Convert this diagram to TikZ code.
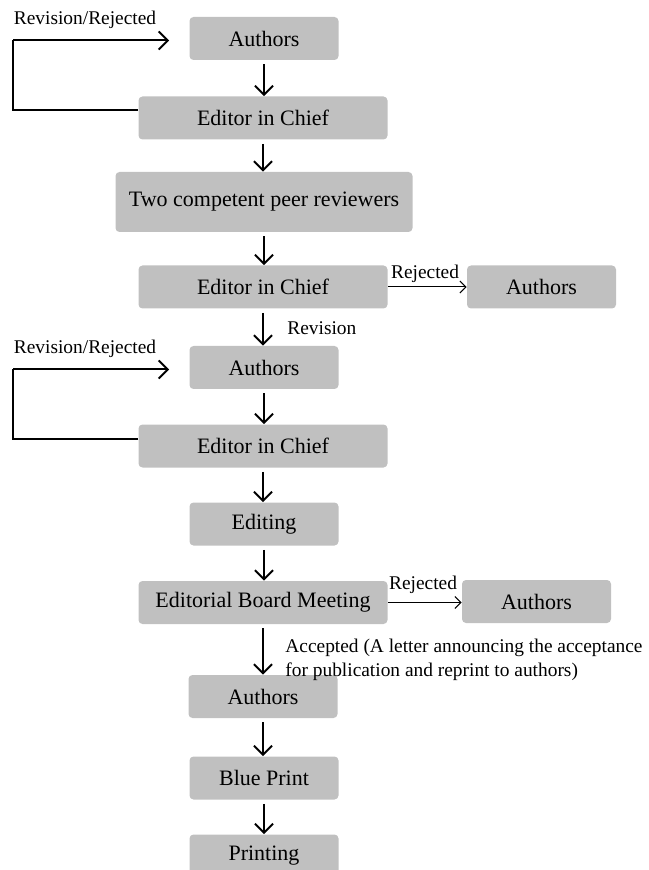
\documentclass[tikz,border=0pt]{standalone}
\usepackage{fontspec}
\setmainfont{Liberation Serif}
\usetikzlibrary{arrows.meta}

\definecolor{boxgray}{RGB}{192,192,192}

\tikzset{
    box/.style={fill=boxgray, rounded corners=2pt, minimum width=74.5pt, minimum height=21.5pt,
        inner sep=0pt, font=\fontsize{11}{13}\selectfont},
    widebox/.style={box, minimum width=124.5pt},
    flow/.style={line width=1pt, -{Straight Barb[length=4.5pt,width=9pt,line width=1pt]}},
    sideflow/.style={line width=0.5pt, -{Straight Barb[length=3pt,width=6pt,line width=0.5pt]}},
    lbl/.style={font=\fontsize{9.7}{12}\selectfont, inner sep=0pt}
}

\begin{document}
\begin{tikzpicture}[x=0.5pt, y=-0.5pt]
\useasboundingbox (0,0) rectangle (648,870);

% Nodes
\node[box] (A1) at (264, 38.5) {Authors};
\node[widebox] (E1) at (263, 118) {Editor in Chief};
\node[box, minimum width=148.5pt, minimum height=30pt] (TR) at (264, 202) {Two competent peer reviewers};
\node[widebox] (E2) at (263, 287) {Editor in Chief};
\node[box] (R1) at (541.5, 287) {Authors};
\node[box] (A2) at (264, 367.5) {Authors};
\node[widebox] (E3) at (263, 446) {Editor in Chief};
\node[box] (ED) at (264, 524) {Editing};
\node[widebox] (EB) at (263, 602.5) {Editorial Board Meeting};
\node[box] (R2) at (536.5, 601.5) {Authors};
\node[box] (A3) at (263, 696.5) {Authors};
\node[box] (BP) at (264, 778) {Blue Print};
\node[box] (PR) at (264, 856) {Printing};

% Labels
\node[lbl] (L1) at (85, 20) {Revision/Rejected};
\node[lbl] (L2) at (85, 349) {Revision/Rejected};
\node[lbl] (RJ1) at (425, 274) {Rejected};
\node[lbl] (RJ2) at (423, 585) {Rejected};
\node[lbl, anchor=west] (RV) at (287, 328) {Revision};
\node[lbl, anchor=west, align=left] (AC) at (285, 660) {Accepted (A letter announcing the acceptance\\for publication and reprint to authors)};

% Loop corners
\coordinate (C1) at (13, 110);
\coordinate (C2) at (13, 40.5);
\coordinate (C3) at (13, 439);
\coordinate (C4) at (13, 369.5);

% Connections
\draw[flow] ([yshift=-2pt]A1.south) -- (E1.north -| A1.south);
\draw[flow] ([yshift=-2pt]E1.south) -- (TR.north -| E1.south);
\draw[flow] ([yshift=-2pt]TR.south) -- (E2.north -| TR.south);
\draw[flow] ([yshift=-2pt]E2.south) -- (A2.north -| E2.south);
\draw[flow] ([yshift=-2pt]A2.south) -- (E3.north -| A2.south);
\draw[flow] ([yshift=-2pt]E3.south) -- (ED.north -| E3.south);
\draw[flow] ([yshift=-2pt]ED.south) -- (EB.north -| ED.south);
\draw[flow] ([yshift=-2pt]EB.south) -- (A3.north -| EB.south);
\draw[flow] ([yshift=-2pt]A3.south) -- (BP.north -| A3.south);
\draw[flow] ([yshift=-2pt]BP.south) -- (PR.north -| BP.south);

\draw[sideflow] (E2.east) -- (R1.west);
\draw[sideflow] (EB.east) -- (EB.east -| R2.west);

\draw[line width=1pt] (E1.west |- C1) -- (C1) -- (C2);
\draw[flow] (C2) -- ([xshift=-10pt]A1.west |- C2);
\draw[line width=1pt] (E3.west |- C3) -- (C3) -- (C4);
\draw[flow] (C4) -- ([xshift=-10pt]A2.west |- C4);
\end{tikzpicture}
\end{document}
